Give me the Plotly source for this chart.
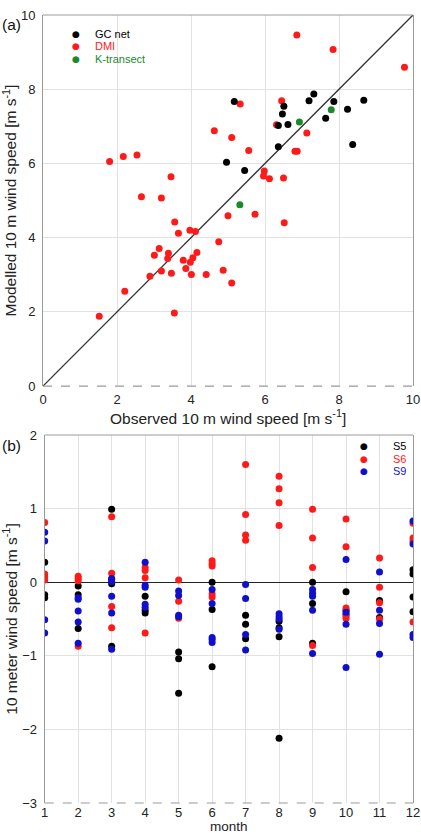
import plotly.graph_objects as go

# ---------------- Panel (a) data ----------------
gc_obs = [5.17, 6.51, 6.47, 6.36, 6.62, 7.19, 7.32, 7.86, 7.64, 8.23, 8.67, 8.37, 6.36, 4.96, 5.45]
gc_mod = [7.67, 7.54, 7.33, 7.02, 7.05, 7.69, 7.87, 7.67, 7.22, 7.46, 7.70, 6.51, 6.45, 6.03, 5.81]

kt_obs = [6.93, 7.79, 5.32]
kt_mod = [7.12, 7.45, 4.89]

dmi_obs = [6.86, 7.84, 9.77, 5.33, 6.45, 6.31, 4.63, 5.10, 7.13, 5.56, 6.81, 6.87,
           1.80, 2.17, 2.54, 3.46, 5.98, 5.96, 6.12, 6.50, 2.66, 3.20,
           3.56, 5.00, 5.73, 6.52, 3.66, 3.97, 4.12, 4.75, 3.14, 3.39, 3.01, 4.16,
           3.37, 4.05, 3.79, 3.98, 3.86, 3.20, 4.87, 3.47, 4.01, 4.41, 2.89, 5.10,
           2.21, 3.55, 1.52]
dmi_mod = [9.46, 9.07, 8.59, 7.60, 7.69, 7.04, 6.88, 6.70, 6.82, 6.35, 6.33, 6.33,
           6.05, 6.19, 6.23, 5.64, 5.80, 5.66, 5.59, 5.61, 5.10, 5.07,
           4.42, 4.59, 4.63, 4.40, 4.12, 4.20, 4.17, 3.89, 3.71, 3.58, 3.53, 3.60,
           3.44, 3.46, 3.39, 3.34, 3.17, 3.10, 3.12, 3.04, 3.01, 3.01, 2.96, 2.78,
           2.56, 1.97, 1.88]

one_to_one = [0, 10]

# ---------------- Panel (b) data ----------------
s5 = {
    1: [0.27, -0.17, -0.21],
    2: [-0.05, -0.17, -0.63],
    3: [0.99, 0.04, -0.02, -0.87],
    4: [-0.19, -0.38, -0.42],
    5: [-0.95, -1.04, -1.51],
    6: [0.00, -0.37, -1.15],
    7: [-0.45, -0.57, -0.77],
    8: [-0.53, -0.62, -0.74, -2.12],
    9: [0.00, -0.29, -0.83],
    10: [-0.13, -0.38, -0.44],
    11: [-0.25, -0.48],
    12: [0.17, 0.11, -0.20, -0.40],
}
s6 = {
    1: [0.81, 0.11, 0.07, 0.03],
    2: [0.08, 0.05, 0.02, -0.87],
    3: [0.89, 0.12, -0.33, -0.62],
    4: [0.20, 0.16, 0.06, -0.69],
    5: [0.03, -0.26, -0.49],
    6: [0.29, 0.25, 0.22, -0.16, -0.20],
    7: [1.60, 0.92, 0.64, 0.57],
    8: [1.44, 1.27, 1.08, 0.77],
    9: [0.99, 0.60, 0.20, -0.86],
    10: [0.86, 0.48, -0.35, -0.46, -0.49],
    11: [0.33, -0.07, -0.28, -0.50],
    12: [0.80, 0.60, 0.56, -0.54],
}
s9 = {
    1: [0.68, 0.56, -0.51, -0.69],
    2: [-0.21, -0.23, -0.39, -0.54, -0.83],
    3: [0.05, 0.01, -0.19, -0.42, -0.91],
    4: [0.27, -0.04, -0.07, -0.30, -0.34],
    5: [-0.12, -0.18, -0.45, -0.47],
    6: [-0.10, -0.29, -0.75, -0.78, -0.82],
    7: [-0.03, -0.22, -0.71, -0.92],
    8: [-0.43, -0.47, -0.50, -0.64],
    9: [-0.10, -0.15, -0.19, -0.38, -0.97],
    10: [0.31, -0.41, -0.57, -1.16],
    11: [0.14, -0.38, -0.56, -0.98],
    12: [0.83, 0.52, -0.71, -0.75],
}
months = list(range(1, 13))

BLACK = "#000000"
RED = "#ff1a1a"
GREEN = "#1a8a2a"
BLUE = "#1010cc"
FONT = "Liberation Sans, Arial, sans-serif"
MS = 7


def flatten(d):
    xs, ys = [], []
    for m in months:
        for v in d[m]:
            xs.append(m)
            ys.append(v)
    return xs, ys


fig = go.Figure()

# panel (a)
fig.add_trace(go.Scatter(x=one_to_one, y=one_to_one, mode="lines",
                         line=dict(color="#333333", width=1.3),
                         xaxis="x", yaxis="y", showlegend=False, hoverinfo="skip"))
fig.add_trace(go.Scatter(x=dmi_obs, y=dmi_mod, mode="markers", name="DMI",
                         marker=dict(color=RED, size=MS), xaxis="x", yaxis="y", showlegend=False))
fig.add_trace(go.Scatter(x=gc_obs, y=gc_mod, mode="markers", name="GC net",
                         marker=dict(color=BLACK, size=MS), xaxis="x", yaxis="y", showlegend=False))
fig.add_trace(go.Scatter(x=kt_obs, y=kt_mod, mode="markers", name="K-transect",
                         marker=dict(color=GREEN, size=MS), xaxis="x", yaxis="y", showlegend=False))

# panel (b)
for d, c, n in [(s5, BLACK, "S5"), (s6, RED, "S6"), (s9, BLUE, "S9")]:
    xs, ys = flatten(d)
    fig.add_trace(go.Scatter(x=xs, y=ys, mode="markers", name=n,
                             marker=dict(color=c, size=MS), xaxis="x2", yaxis="y2", showlegend=False))

grid = "#e2e2e2"
border = "#9a9a9a"
tickfont = dict(family=FONT, size=13, color="#222")
titlefont = dict(family=FONT, size=15.5, color="#222")

fig.update_layout(
    width=421, height=835,
    margin=dict(l=43, r=8, t=15, b=32),
    paper_bgcolor="white", plot_bgcolor="white",
    font=dict(family=FONT),
    xaxis=dict(domain=[0, 1], range=[0, 10], dtick=2, showgrid=True, gridcolor=grid,
               zeroline=False, showline=False, tickfont=tickfont, ticks="", automargin=False,
               ticklabelstandoff=4, anchor="y"),
    yaxis=dict(domain=[0.529, 1], range=[0, 10], dtick=2, showgrid=True, gridcolor=grid,
               zeroline=False, showline=True, linecolor=border, mirror=True, tickfont=tickfont, ticks="",
               automargin=False, ticklabelstandoff=4,
               title=dict(text="Modelled 10 m wind speed [m s<sup>-1</sup>]", font=titlefont, standoff=6),
               anchor="x"),
    xaxis2=dict(domain=[0.0046, 1], range=[1, 12], dtick=1, showgrid=True, gridcolor=grid,
                zeroline=False, showline=False, tickfont=tickfont, ticks="", automargin=False,
                anchor="y2"),
    yaxis2=dict(domain=[0, 0.467], range=[-3, 2], dtick=1, showgrid=True, gridcolor=grid,
                zeroline=True, zerolinecolor="#222", zerolinewidth=1.3,
                showline=True, linecolor=border, mirror=True, tickfont=tickfont, ticks="",
                automargin=False, ticklabelstandoff=4,
                title=dict(text="10 meter wind speed [m s<sup>-1</sup>]", font=titlefont, standoff=12),
                anchor="x2"),
    showlegend=False,
)

# frame top (solid) and bottom (dashed) lines
for xr, yr in [("x domain", "y domain"), ("x2 domain", "y2 domain")]:
    fig.add_shape(type="line", xref=xr, yref=yr, x0=0, x1=1, y0=1, y1=1,
                  line=dict(color=border, width=1))
    fig.add_shape(type="line", xref=xr, yref=yr, x0=0, x1=1, y0=0, y1=0,
                  line=dict(color=border, width=1.2, dash="dash"))

plot_top, plot_h = 15, 835 - 15 - 32
plot_left, plot_w = 43, 421 - 43 - 8


def px2paper(px, py):
    return (px - plot_left) / plot_w, (plot_top + plot_h - py) / plot_h


# x-axis titles (placed as annotations for exact position)
tx_a, ty_a = px2paper(228, 405)
fig.add_annotation(text="Observed 10 m wind speed [m s<sup>-1</sup>]", xref="paper", yref="paper",
                   x=tx_a, y=ty_a, xanchor="center", yanchor="top", showarrow=False,
                   font=titlefont)
tx_b, ty_b = px2paper(229, 835)
fig.add_annotation(text="month", xref="paper", yref="paper",
                   x=tx_b, y=ty_b, xanchor="center", yanchor="bottom", showarrow=False,
                   height=13, font=dict(family=FONT, size=13.5, color="#222"))

# panel labels
for lab, py in [("(a)", 25), ("(b)", 445)]:
    lx, ly = px2paper(0, py)
    fig.add_annotation(text=lab, xref="paper", yref="paper", x=lx, y=ly,
                       xanchor="left", yanchor="middle", showarrow=False,
                       font=dict(family=FONT, size=15.5, color="#111"))

# legends as text entries
leg_a = [("GC net", BLACK, 33.0), ("DMI", RED, 46.0), ("K-transect", GREEN, 59.0)]
leg_b = [("S5", BLACK, 445.0), ("S6", RED, 458.0), ("S9", BLUE, 471.0)]

for entries, mx, tx in [(leg_a, 76, 93), (leg_b, 364, 391)]:
    for label, col, py in entries:
        x0, y0 = px2paper(mx, py)
        fig.add_annotation(text="●", xref="paper", yref="paper", x=x0, y=y0,
                           xanchor="center", yanchor="middle", showarrow=False,
                           width=8, height=11,
                           font=dict(family="DejaVu Sans", size=9, color=col))
        x1, _ = px2paper(tx, py)
        fig.add_annotation(text=label, xref="paper", yref="paper", x=x1, y=y0,
                           xanchor="left", yanchor="middle", showarrow=False,
                           height=11,
                           font=dict(family=FONT, size=11, color=col))

fig.write_html("out.html")
